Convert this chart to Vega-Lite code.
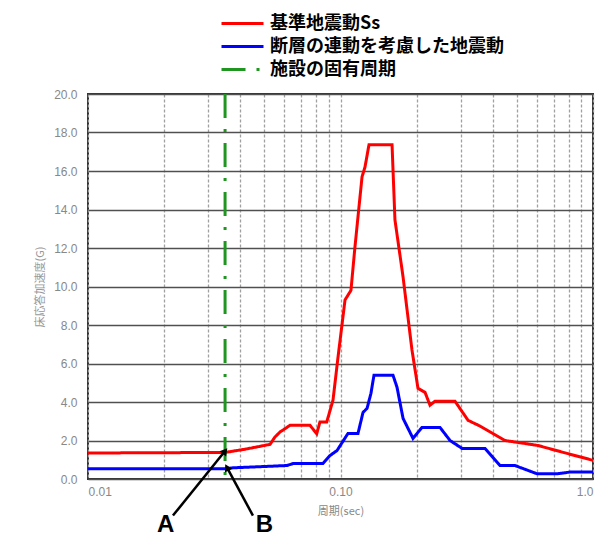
{
  "$schema": "https://vega.github.io/schema/vega-lite/v6.json",
  "autosize": {"type": "none"},
  "padding": {"left": 88, "top": 94, "right": 2, "bottom": 57},
  "width": 505,
  "height": 385,
  "background": "white",
  "config": {
    "view": {"stroke": "#333", "strokeWidth": 2},
    "font": "Liberation Sans",
    "axisX": {
      "values": [0.01, 0.02, 0.03, 0.04, 0.05, 0.06, 0.07, 0.08, 0.09, 0.1, 0.2, 0.3, 0.4, 0.5, 0.6, 0.7, 0.8, 0.9, 1],
      "labelExpr": "datum.value == 0.01 ? '0.01' : (datum.value == 0.1 ? '0.10' : (datum.value == 1 ? '1.0' : ''))",
      "ticks": false, "domain": false,
      "grid": true, "gridColor": "#a0a0a0", "gridDash": [3, 2], "gridWidth": 1.3,
      "labelColor": "#888", "labelFontSize": 12, "labelPadding": 7, "labelOverlap": false,
      "titleFont": "Noto Sans CJK JP", "titleFontSize": 11,
      "titleFontWeight": "normal", "titleColor": "#888", "titlePadding": 8
    },
    "axisY": {
      "values": [0, 2, 4, 6, 8, 10, 12, 14, 16, 18, 20],
      "format": ".1f",
      "ticks": false, "domain": false,
      "grid": true, "gridColor": "#505050", "gridWidth": 1.5,
      "labelColor": "#888", "labelFontSize": 12, "labelPadding": 11,
      "titleFont": "Noto Sans CJK JP", "titleFontSize": 11,
      "titleFontWeight": "normal", "titleColor": "#999", "titlePadding": 8
    }
  },
  "datasets": {
    "curves": [
      {"series": "基準地震動Ss", "T": 0.01, "v": 1.35},
      {"series": "基準地震動Ss", "T": 0.0349, "v": 1.38},
      {"series": "基準地震動Ss", "T": 0.042, "v": 1.55},
      {"series": "基準地震動Ss", "T": 0.0526, "v": 1.8},
      {"series": "基準地震動Ss", "T": 0.055, "v": 2.18},
      {"series": "基準地震動Ss", "T": 0.0576, "v": 2.44},
      {"series": "基準地震動Ss", "T": 0.0631, "v": 2.79},
      {"series": "基準地震動Ss", "T": 0.0757, "v": 2.79},
      {"series": "基準地震動Ss", "T": 0.0805, "v": 2.35},
      {"series": "基準地震動Ss", "T": 0.0829, "v": 2.96},
      {"series": "基準地震動Ss", "T": 0.0882, "v": 2.96},
      {"series": "基準地震動Ss", "T": 0.0934, "v": 4.1},
      {"series": "基準地震動Ss", "T": 0.0977, "v": 6.3},
      {"series": "基準地震動Ss", "T": 0.1042, "v": 9.3},
      {"series": "基準地震動Ss", "T": 0.110, "v": 9.8},
      {"series": "基準地震動Ss", "T": 0.1141, "v": 12.06},
      {"series": "基準地震動Ss", "T": 0.1217, "v": 15.7},
      {"series": "基準地震動Ss", "T": 0.125, "v": 16.2},
      {"series": "基準地震動Ss", "T": 0.1297, "v": 17.37},
      {"series": "基準地震動Ss", "T": 0.16, "v": 17.37},
      {"series": "基準地震動Ss", "T": 0.1643, "v": 13.46},
      {"series": "基準地震動Ss", "T": 0.1769, "v": 10.5},
      {"series": "基準地震動Ss", "T": 0.1919, "v": 6.7},
      {"series": "基準地震動Ss", "T": 0.2027, "v": 4.71},
      {"series": "基準地震動Ss", "T": 0.2162, "v": 4.5},
      {"series": "基準地震動Ss", "T": 0.2262, "v": 3.83},
      {"series": "基準地震動Ss", "T": 0.2367, "v": 4.04},
      {"series": "基準地震動Ss", "T": 0.2841, "v": 4.04},
      {"series": "基準地震動Ss", "T": 0.3199, "v": 3.05},
      {"series": "基準地震動Ss", "T": 0.3569, "v": 2.75},
      {"series": "基準地震動Ss", "T": 0.4482, "v": 2.0},
      {"series": "基準地震動Ss", "T": 0.528, "v": 1.86},
      {"series": "基準地震動Ss", "T": 0.6057, "v": 1.74},
      {"series": "基準地震動Ss", "T": 0.7889, "v": 1.33},
      {"series": "基準地震動Ss", "T": 1.0, "v": 0.97},
      {"series": "断層の連動を考慮した地震動", "T": 0.01, "v": 0.53},
      {"series": "断層の連動を考慮した地震動", "T": 0.0349, "v": 0.53},
      {"series": "断層の連動を考慮した地震動", "T": 0.0375, "v": 0.58},
      {"series": "断層の連動を考慮した地震動", "T": 0.0614, "v": 0.7},
      {"series": "断層の連動を考慮した地震動", "T": 0.0648, "v": 0.8},
      {"series": "断層の連動を考慮した地震動", "T": 0.0852, "v": 0.8},
      {"series": "断層の連動を考慮した地震動", "T": 0.0909, "v": 1.22},
      {"series": "断層の連動を考慮した地震動", "T": 0.0969, "v": 1.48},
      {"series": "断層の連動を考慮した地震動", "T": 0.1071, "v": 2.37},
      {"series": "断層の連動を考慮した地震動", "T": 0.1173, "v": 2.37},
      {"series": "断層の連動を考慮した地震動", "T": 0.1228, "v": 3.46},
      {"series": "断層の連動を考慮した地震動", "T": 0.1274, "v": 3.67},
      {"series": "断層の連動を考慮した地震動", "T": 0.132, "v": 4.45},
      {"series": "断層の連動を考慮した地震動", "T": 0.1357, "v": 5.39},
      {"series": "断層の連動を考慮した地震動", "T": 0.1614, "v": 5.39},
      {"series": "断層の連動を考慮した地震動", "T": 0.1674, "v": 4.77},
      {"series": "断層の連動を考慮した地震動", "T": 0.1769, "v": 3.15},
      {"series": "断層の連動を考慮した地震動", "T": 0.1937, "v": 2.11},
      {"series": "断層の連動を考慮した地震動", "T": 0.2103, "v": 2.68},
      {"series": "断層の連動を考慮した地震動", "T": 0.2477, "v": 2.68},
      {"series": "断層の連動を考慮した地震動", "T": 0.2715, "v": 2.0},
      {"series": "断層の連動を考慮した地震動", "T": 0.3029, "v": 1.59},
      {"series": "断層の連動を考慮した地震動", "T": 0.3736, "v": 1.59},
      {"series": "断層の連動を考慮した地震動", "T": 0.4282, "v": 0.7},
      {"series": "断層の連動を考慮した地震動", "T": 0.4911, "v": 0.7},
      {"series": "断層の連動を考慮した地震動", "T": 0.6003, "v": 0.27},
      {"series": "断層の連動を考慮した地震動", "T": 0.7203, "v": 0.27},
      {"series": "断層の連動を考慮した地震動", "T": 0.811, "v": 0.36},
      {"series": "断層の連動を考慮した地震動", "T": 1.0, "v": 0.37},
      {"series": "施設の固有周期", "T": 0.0349, "v": 20},
      {"series": "施設の固有周期", "T": 0.0349, "v": 0}
    ],
    "notes": [
      {"label": "A", "T0": 0.0217, "v0": -1.9, "T": 0.0349, "v": 1.45, "Tt": 0.0203, "vt": -2.75},
      {"label": "B", "T0": 0.045, "v0": -1.9, "T": 0.0355, "v": 0.6, "Tt": 0.05, "vt": -2.75}
    ]
  },
  "layer": [
    {
      "data": {"name": "curves"},
      "mark": {"type": "line", "strokeWidth": 3, "clip": false},
      "encoding": {
        "x": {
          "field": "T", "type": "quantitative",
          "scale": {"type": "log", "domain": [0.01, 1], "nice": false},
          "title": "周期(sec)"
        },
        "y": {
          "field": "v", "type": "quantitative",
          "scale": {"domain": [0, 20], "nice": false, "zero": false},
          "title": "床応答加速度(G)"
        },
        "color": {
          "field": "series", "type": "nominal",
          "scale": {
            "domain": ["基準地震動Ss", "断層の連動を考慮した地震動", "施設の固有周期"],
            "range": ["#ff0000", "#0000ff", "#1f961f"]
          },
          "legend": {
            "orient": "none", "legendX": 142.5, "legendY": -82.5,
            "title": null, "padding": 0,
            "symbolType": "M-2,0H2", "symbolSize": 441, "symbolStrokeWidth": 3,
            "labelFont": "Noto Sans CJK JP", "labelFontSize": 18, "labelFontWeight": "bold",
            "labelColor": "#000", "labelOffset": 15.5, "rowPadding": 2, "labelLimit": 400
          }
        },
        "strokeDash": {
          "field": "series", "type": "nominal",
          "scale": {
            "domain": ["基準地震動Ss", "断層の連動を考慮した地震動", "施設の固有周期"],
            "range": [[1, 0], [1, 0], [24, 11, 3, 11]]
          },
          "legend": null
        }
      }
    },
    {
      "data": {"name": "notes"},
      "mark": {"type": "rule", "color": "#000", "strokeWidth": 2.5},
      "encoding": {
        "x": {"field": "T", "type": "quantitative", "title": "周期(sec)"},
        "y": {"field": "v", "type": "quantitative", "title": "床応答加速度(G)"},
        "x2": {"field": "T0"},
        "y2": {"field": "v0"}
      }
    },
    {
      "data": {"name": "notes"},
      "transform": [{"filter": "datum.label == 'A'"}],
      "mark": {"type": "point", "shape": "triangle-up", "filled": true, "color": "#000", "opacity": 1, "size": 70, "angle": 38},
      "encoding": {
        "x": {"field": "T", "type": "quantitative", "title": "周期(sec)"},
        "y": {"field": "v", "type": "quantitative", "title": "床応答加速度(G)"}
      }
    },
    {
      "data": {"name": "notes"},
      "transform": [{"filter": "datum.label == 'B'"}],
      "mark": {"type": "point", "shape": "triangle-up", "filled": true, "color": "#000", "opacity": 1, "size": 70, "angle": 332},
      "encoding": {
        "x": {"field": "T", "type": "quantitative", "title": "周期(sec)"},
        "y": {"field": "v", "type": "quantitative", "title": "床応答加速度(G)"}
      }
    },
    {
      "data": {"name": "notes"},
      "mark": {"type": "text", "font": "Liberation Sans", "fontSize": 24, "fontWeight": "bold", "color": "#000", "align": "center", "baseline": "alphabetic"},
      "encoding": {
        "x": {"field": "Tt", "type": "quantitative", "title": "周期(sec)"},
        "y": {"field": "vt", "type": "quantitative", "title": "床応答加速度(G)"},
        "text": {"field": "label"}
      }
    }
  ]
}
